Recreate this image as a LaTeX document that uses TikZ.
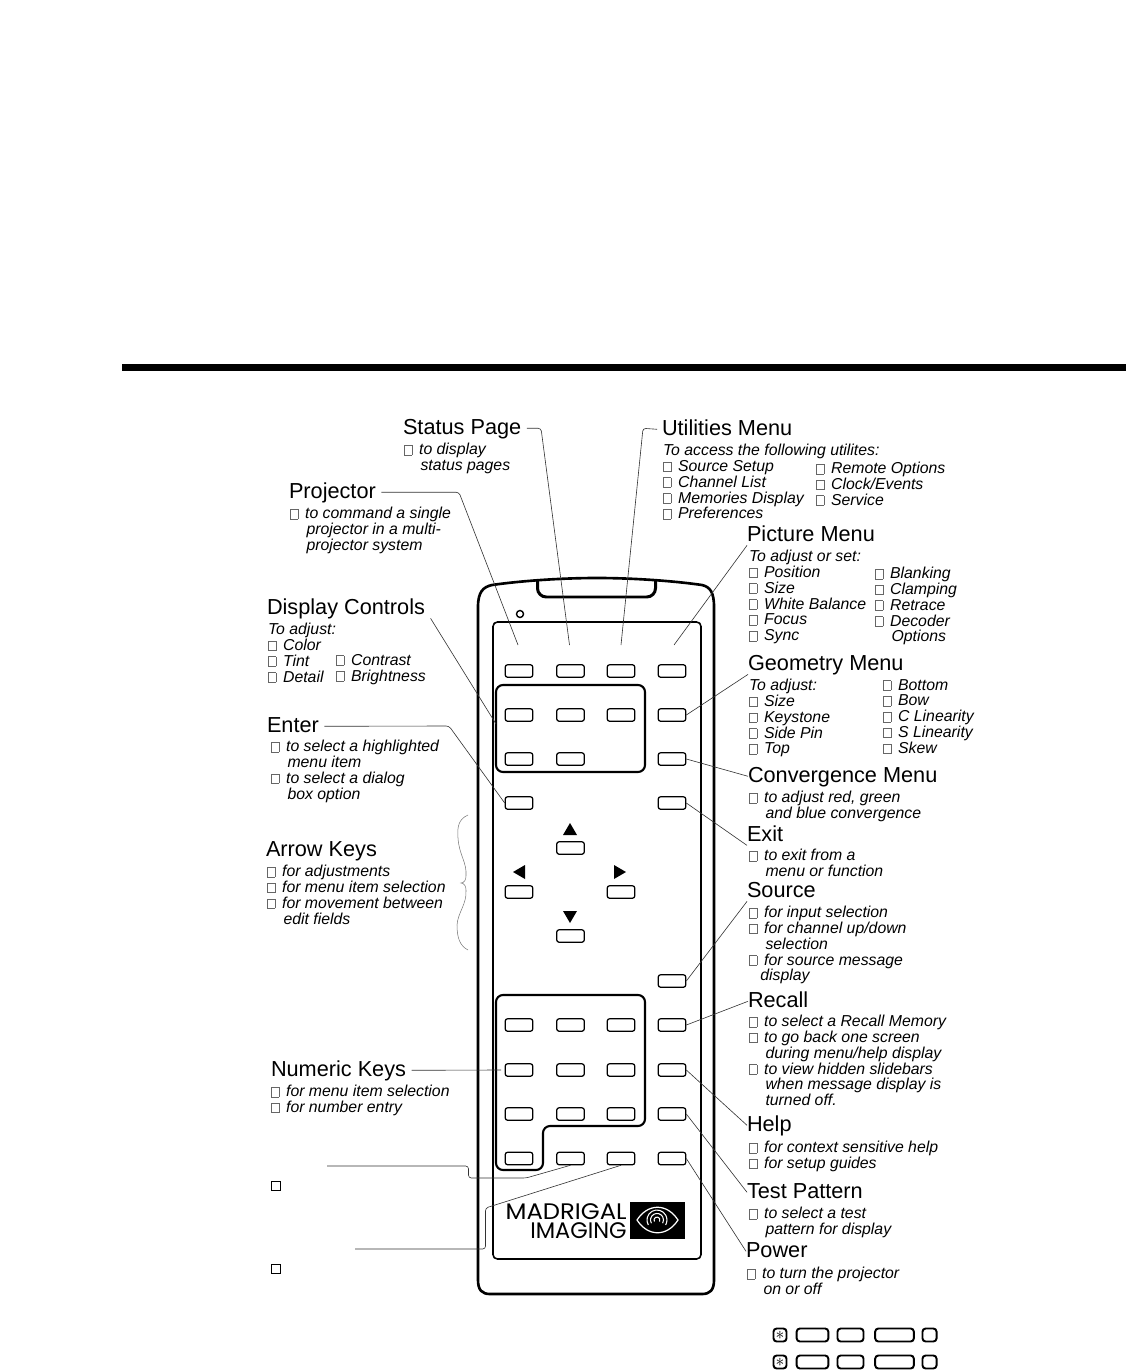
\documentclass[tikz,border=0pt]{standalone}
\usepackage{fontspec}
\setmainfont{Liberation Sans}
\newfontfamily\logofont{Poppins}
\usetikzlibrary{arrows.meta,positioning,calc}
\definecolor{mdink}{HTML}{000000}
\definecolor{mdline}{HTML}{333333}
\definecolor{mdbox}{HTML}{666666}
\definecolor{mdbrace}{HTML}{777777}
\newcommand{\cbx}{{\setlength{\fboxsep}{0pt}\setlength{\fboxrule}{0.25pt}\color{mdbox}\fbox{\rule{0pt}{5.3pt}\rule{4.2pt}{0pt}}}\hspace{3.9pt}}
\newcommand{\cnt}{\hspace*{9.4pt}}
\tikzset{
  hdr/.style    ={inner sep=0pt, outer sep=0pt, anchor=base west, text height=9pt, text depth=2.5pt,
                  font=\fontsize{12.35}{13}\selectfont, text=mdink},
  hdrl/.style   ={hdr, outer xsep=3.2pt, xshift=-3.2pt},
  body/.style   ={inner sep=0pt, outer sep=0pt, anchor=north west, align=left, yshift=5.6pt,
                  font=\itshape\fontsize{9}{9}\selectfont, text=mdink,
                  execute at begin node=\rule{0pt}{6.6pt}},
  rkey/.style   ={rectangle, rounded corners=1.2pt, draw=mdink, fill=white, line width=0.7pt,
                  minimum width=15.6pt, minimum height=7pt, inner sep=0pt},
  lead/.style   ={draw=mdline, line width=0.35pt, rounded corners=1.6pt},
  tribtn/.style ={fill=mdink, draw=none},
  hidbox/.style ={rectangle, draw=mdink, line width=0.6pt, minimum width=4.6pt, minimum height=5.2pt, inner sep=0pt},
  symkey/.style ={rectangle, rounded corners=1.8pt, draw=mdink, fill=white, line width=1.1pt,
                  minimum height=7.4pt, inner sep=0pt},
  logotx/.style ={inner sep=0pt, anchor=base east, font=\logofont\fontsize{12.8}{13}\selectfont, text=mdink},
}
\begin{document}
\begin{tikzpicture}[x=0.02cm,y=-0.02cm]
  \useasboundingbox (0,0) rectangle (1126,1371);
  \fill[mdink] (122,364) rectangle (1126,371);
  % remote body
  \draw[line width=1.5pt, mdink] (478,1280) -- (478,607) .. controls (478,592) and (483,587) .. (492,585)
    .. controls (520,581) and (560,578) .. (597,578) .. controls (634,578) and (674,581) .. (702,585)
    .. controls (710,587) and (714,592) .. (714,607) -- (714,1280)
    .. controls (714,1290) and (710,1294) .. (702,1294) -- (490,1294)
    .. controls (482,1294) and (478,1290) .. (478,1280) -- cycle;
  \draw[line width=1.7pt, mdink, rounded corners=5pt] (537.5,581) -- (537.5,597) -- (655.5,597) -- (655.5,581);
  \draw[line width=0.9pt, mdink, rounded corners=2.5pt] (493,622) rectangle (701,1259);
  \draw[line width=0.8pt, mdink] (520,614) circle (3.5);
  % key groups
  \draw[line width=1.2pt, mdink, rounded corners=4pt] (496,685) rectangle (645,772);
  \draw[line width=1.2pt, mdink, rounded corners=4pt] (496,995) -- (645,995) -- (645,1126) -- (543,1126)
    -- (543,1170) -- (496,1170) -- cycle;
  % buttons
  \foreach \n/\x/\y in {ka/519/671,kb/570.5/671,kc/621/671,kd/672/671,
                        dca/519/715,dcb/570.5/715,dcc/621/715,kgeo/672/715,
                        dcd/519/759,dce/570.5/759,kconv/672/759,
                        kenter/519/803,kexit/672/803,
                        kup/570.5/848,kleft/519/892,kright/621/892,kdown/570.5/936,ksrc/672/981,
                        na/519/1025,nb/570.5/1025,nc/621/1025,krecall/672/1025,
                        nd/519/1070,ne/570.5/1070,nf/621/1070,khelp/672/1070,
                        ng/519/1114,nh/570.5/1114,ni/621/1114,ktest/672/1114,
                        nj/519/1158.5,kx/570.5/1158.5,ky/621/1158.5,kpower/672/1158.5}{
    \node[rkey] (\n) at (\x,\y) {};
  }
  \fill[tribtn] (563,835) -- (570,823) -- (577,835) -- cycle;
  \fill[tribtn] (525,865) -- (513,872) -- (525,879) -- cycle;
  \fill[tribtn] (614,865) -- (626,872) -- (614,879) -- cycle;
  \fill[tribtn] (563,911) -- (577,911) -- (570,923) -- cycle;
  % logo
  \node[logotx] (lgm) at (627,1219) {\scalebox{1.08}[1]{MADRIGAL}};
  \node[logotx] (lgi) at (627,1238.5) {\scalebox{1.0}[1]{IMAGING}};
  \fill[mdink] (630,1202) rectangle (685,1239);
  \draw[white, line width=0.7pt] (637,1220) .. controls (648,1203) and (667,1203) .. (678,1220)
    .. controls (667,1237) and (648,1237) .. cycle;
  \draw[white, line width=0.6pt] (648.3,1225) arc (150:390:10);
  \draw[white, line width=0.6pt] (651.4,1223.2) arc (150:390:6.5);
  \draw[white, line width=0.6pt] (654.4,1221.5) arc (150:390:3);
  % headings and their text
  \node[hdrl] (hstatus) at (403,434) {Status Page};
  \node[body] at (404,453) {\cbx to display\\\cnt status pages};
  \node[hdrl,outer xsep=2.8pt,xshift=0.4pt] (hutil) at (662,435) {Utilities Menu};
  \node[body] at (663,454) {To access the following utilites:\\\cbx Source Setup\\\cbx Channel List\\\cbx Memories Display\\\cbx Preferences};
  \node[body] at (816,472) {\cbx Remote Options\\\cbx Clock/Events\\\cbx Service};
  \node[hdrl] (hproj) at (289,498) {Projector};
  \node[body] at (290,517) {\cbx to command a single\\\cnt projector in a multi-\\\cnt projector system};
  \node[hdr] (hpic) at (747,541) {Picture Menu};
  \node[body] at (749,560) {To adjust or set:\\\cbx Position\\\cbx Size\\\cbx White Balance\\\cbx Focus\\\cbx Sync};
  \node[body] at (875,577) {\cbx Blanking\\\cbx Clamping\\\cbx Retrace\\\cbx Decoder\\\cnt Options};
  \node[hdrl] (hdisp) at (267,614) {Display Controls};
  \node[body] at (268,633) {To adjust:\\\cbx Color\\\cbx Tint\\\cbx Detail};
  \node[body] at (336,664) {\cbx Contrast\\\cbx Brightness};
  \node[hdr] (hgeo) at (748,670) {Geometry Menu};
  \node[body] at (749,689) {To adjust:\\\cbx Size\\\cbx Keystone\\\cbx Side Pin\\\cbx Top};
  \node[body] at (883,689) {\cbx Bottom\\\cbx Bow\\\cbx C Linearity\\\cbx S Linearity\\\cbx Skew};
  \node[hdrl] (henter) at (267,732) {Enter};
  \node[body] at (271,750) {\cbx to select a highlighted\\\cnt menu item\\\cbx to select a dialog\\\cnt box option};
  \node[hdr] (hconv) at (748,782) {Convergence Menu};
  \node[body] at (749,801) {\cbx to adjust red, green\\\cnt and blue convergence};
  \node[hdr] (hexit) at (747,841) {Exit};
  \node[body] at (749,859) {\cbx to exit from a\\\cnt menu or function};
  \node[hdr] (harrow) at (266,856) {Arrow Keys};
  \node[body] at (267,875) {\cbx for adjustments\\\cbx for menu item selection\\\cbx for movement between\\\cnt edit fields};
  \node[hdr] (hsrc) at (747,897) {Source};
  \node[body] at (749,916) {\cbx for input selection\\\cbx for channel up/down\\\cnt selection\\\cbx for source message\\\hspace*{6.5pt}display};
  \node[hdr] (hrecall) at (748,1007) {Recall};
  \node[body] at (749,1025) {\cbx to select a Recall Memory\\\cbx to go back one screen\\\cnt during menu/help display\\\cbx to view hidden slidebars\\\cnt when message display is\\\cnt turned off.};
  \node[hdrl] (hnum) at (271,1076) {Numeric Keys};
  \node[body] at (271,1095) {\cbx for menu item selection\\\cbx for number entry};
  \node[hdr] (hhelp) at (747,1131) {Help};
  \node[body] at (749,1151) {\cbx for context sensitive help\\\cbx for setup guides};
  \node[hdr] (htest) at (747,1198) {Test Pattern};
  \node[body] at (749,1217) {\cbx to select a test\\\cnt pattern for display};
  \node[hdr] (hpower) at (746,1257) {Power};
  \node[body] at (747,1277) {\cbx to turn the projector\\\cnt on or off};
  \node[hidbox] (hidx) at (276,1186) {};
  \node[hidbox] (hidy) at (276,1269) {};
  % connector ends
  \coordinate (toproj) at (518,645);
  \coordinate (tostat) at (569.5,645);
  \coordinate (toutil) at (621,645);
  \coordinate (topic) at (674,645);
  \coordinate (tonum) at (501,1070);
  \coordinate (todisp) at (496,724);
  \coordinate (fromx) at (327,1166);
  \coordinate (fromy) at (355,1249);
  \draw[lead] (hstatus.east) -- (541,428.3) -- (tostat);
  \draw[lead] (hutil.west) -- (643,428.3) -- (toutil);
  \draw[lead] (hproj.east) -- (459,492.3) -- (toproj);
  \draw[lead] (hpic.south west) -- (topic);
  \draw[lead] (hdisp.south east) -- (todisp);
  \draw[lead] (henter.east) -- (449,726) -- (kenter.west);
  \draw[lead] (hnum.east) -- (tonum);
  \draw[lead] (hgeo.south west) -- (kgeo.east);
  \draw[lead] (hconv.west) -- (kconv.east);
  \draw[lead] (hexit.south west) -- (kexit.east);
  \draw[lead] (hsrc.south west) -- (ksrc.east);
  \draw[lead] (hrecall.west) -- (krecall.east);
  \draw[lead] (hhelp.west) -- (khelp.east);
  \draw[lead] (htest.west) -- (ktest.east);
  \draw[lead] (hpower.west) -- (kpower.east);
  \draw[lead] (fromx) -- (468.5,1166) -- (468.5,1178) -- (526,1178) -- (kx.south);
  \draw[lead] (fromy) -- (485.5,1249) -- (485.5,1208) -- (ky.south);
  % brace
  \draw[mdbrace, line width=0.3pt] (468,815) .. controls (459,819) and (457,826) .. (458,838)
    .. controls (459,855) and (467,862) .. (466,876) .. controls (466,880) and (464,883) .. (461,883)
    .. controls (464,883) and (466,886) .. (466,890) .. controls (467,904) and (458,912) .. (457,925)
    .. controls (457,938) and (460,946) .. (468,950);
  % symbol keys
  \foreach \ry/\r in {1335/a,1362/b}{
    \node[symkey, minimum width=7.4pt] (sym\r a) at (780,\ry) {$\ast$};
    \node[symkey, minimum width=18pt] (sym\r b) at (812.5,\ry) {};
    \node[symkey, minimum width=14.8pt] (sym\r c) at (850.5,\ry) {};
    \node[symkey, minimum width=22pt] (sym\r d) at (894.5,\ry) {};
    \node[symkey, minimum width=8pt] (sym\r e) at (929.5,\ry) {};
  }
\end{tikzpicture}
\end{document}
